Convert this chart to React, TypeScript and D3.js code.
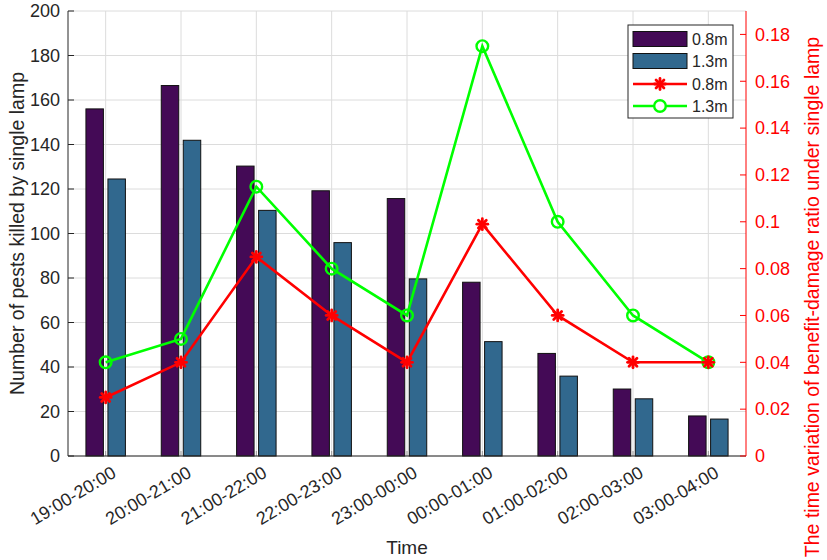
import React from "react";
import * as d3 from "d3";

const categories = [
  "19:00-20:00", "20:00-21:00", "21:00-22:00", "22:00-23:00", "23:00-00:00",
  "00:00-01:00", "01:00-02:00", "02:00-03:00", "03:00-04:00",
];
const pests08 = [156, 166.5, 130.3, 119.2, 115.7, 78.1, 46.1, 30.1, 18];
const pests13 = [124.5, 141.9, 110.4, 95.9, 79.6, 51.4, 35.9, 25.7, 16.6];
const ratio08 = [0.025, 0.04, 0.085, 0.06, 0.04, 0.099, 0.06, 0.04, 0.04];
const ratio13 = [0.04, 0.05, 0.115, 0.08, 0.06, 0.175, 0.1, 0.06, 0.04];
const leftTicks = [0, 20, 40, 60, 80, 100, 120, 140, 160, 180, 200];
const rightTicks = [0, 0.02, 0.04, 0.06, 0.08, 0.1, 0.12, 0.14, 0.16, 0.18];

const W = 827, H = 560;
const L = 68, R = 746, T = 11, B = 456;
const PURPLE = "#440a56";
const BLUE = "#31688e";
const RED = "#ff0000";
const GREEN = "#00ff00";
const INK = "#262626";
const FONT = "'Liberation Sans', Arial, Helvetica, sans-serif";

export default function App() {
  const x = d3.scalePoint<string>().domain(categories).range([L, R]).padding(0.5);
  const step = x.step();
  const yL = d3.scaleLinear().domain([0, 200]).range([B, T]);
  const yR = d3.scaleLinear().domain([0, 0.19]).range([B, T]);
  const barW = step * 0.232;
  const off = step * 0.146;

  const line = (vals: number[]) =>
    d3.line<number>().x((_, i) => x(categories[i])!).y((v) => yR(v))(vals)!;

  const star = (cx: number, cy: number, key: string, s = 5.5) => (
    <g key={key} stroke={RED} strokeWidth={2.8} strokeLinecap="round">
      <line x1={cx - s} y1={cy} x2={cx + s} y2={cy} />
      <line x1={cx} y1={cy - s} x2={cx} y2={cy + s} />
      <line x1={cx - s * 0.72} y1={cy - s * 0.72} x2={cx + s * 0.72} y2={cy + s * 0.72} />
      <line x1={cx - s * 0.72} y1={cy + s * 0.72} x2={cx + s * 0.72} y2={cy - s * 0.72} />
    </g>
  );

  const fmtR = (v: number) => String(+v.toFixed(2));

  const legX = 628, legY = 25, legW = 105, legH = 93;
  const rows = [39, 61, 84, 106];

  return (
    <svg width={W} height={H} style={{ position: "absolute", left: 0, top: 0, background: "#fff" }} fontFamily={FONT}>
      <rect x={0} y={0} width={W} height={H} fill="#fff" />
      {/* grid */}
      <g stroke="#dcdcdc" strokeWidth={1}>
        {leftTicks.map((t) => (
          <line key={"gh" + t} x1={L} x2={R} y1={yL(t)} y2={yL(t)} />
        ))}
        {categories.map((c) => (
          <line key={"gv" + c} x1={x(c)} x2={x(c)} y1={T} y2={B} />
        ))}
      </g>
      {/* bars */}
      <g stroke="#111" strokeWidth={1}>
        {categories.map((c, i) => (
          <rect key={"b1" + c} x={x(c)! - off - barW / 2} y={yL(pests08[i])} width={barW} height={B - yL(pests08[i])} fill={PURPLE} />
        ))}
        {categories.map((c, i) => (
          <rect key={"b2" + c} x={x(c)! + off - barW / 2} y={yL(pests13[i])} width={barW} height={B - yL(pests13[i])} fill={BLUE} />
        ))}
      </g>
      {/* bottom ticks */}
      <g stroke="#999" strokeWidth={1}>
        {categories.map((c) => (
          <line key={"bt" + c} x1={x(c)} x2={x(c)} y1={B} y2={B - 5} />
        ))}
      </g>
      {/* lines */}
      <path d={line(ratio13)} fill="none" stroke={GREEN} strokeWidth={2.6} />
      <path d={line(ratio08)} fill="none" stroke={RED} strokeWidth={2.6} />
      {ratio13.map((v, i) => (
        <circle key={"gc" + i} cx={x(categories[i])} cy={yR(v)} r={5.8} fill="none" stroke={GREEN} strokeWidth={2.4} />
      ))}
      {ratio08.map((v, i) => star(x(categories[i])!, yR(v), "rs" + i))}
      {/* axes */}
      <line x1={L} x2={R} y1={B} y2={B} stroke={INK} strokeWidth={1} />
      <line x1={L} x2={L} y1={T} y2={B} stroke={INK} strokeWidth={1} />
      <line x1={R} x2={R} y1={T} y2={B} stroke={RED} strokeWidth={1} />
      {leftTicks.map((t) => (
        <g key={"lt" + t}>
          <line x1={L} x2={L + 6} y1={yL(t)} y2={yL(t)} stroke={INK} />
          <text x={L - 8} y={yL(t)} dy="0.35em" textAnchor="end" fontSize={18} fill={INK}>{t}</text>
        </g>
      ))}
      {rightTicks.map((t) => (
        <g key={"rt" + t}>
          <line x1={R - 6} x2={R} y1={yR(t)} y2={yR(t)} stroke={RED} />
          <text x={R + 9} y={yR(t)} dy="0.35em" textAnchor="start" fontSize={18} fill={RED}>{fmtR(t)}</text>
        </g>
      ))}
      {categories.map((c) => (
        <text key={"xl" + c} transform={`translate(${x(c)! + 5},${B + 9}) rotate(-31)`} textAnchor="end" dy="0.72em" fontSize={18} fill={INK}>{c}</text>
      ))}
      <text x={(L + R) / 2} y={554} textAnchor="middle" fontSize={19} fill={INK}>Time</text>
      <text transform={`translate(24,${(T + B) / 2}) rotate(-90)`} textAnchor="middle" fontSize={19.5} fill={INK}>Number of pests killed by single lamp</text>
      <text transform={`translate(819,297) rotate(-90)`} textAnchor="middle" fontSize={19.5} fill={RED}>The time variation of benefit-damage ratio under single lamp</text>
      {/* legend */}
      <rect x={legX} y={legY} width={legW} height={legH} fill="#fff" stroke={INK} strokeWidth={1} />
      <rect x={633} y={rows[0] - 7.5} width={54} height={15} fill={PURPLE} stroke="#111" />
      <rect x={633} y={rows[1] - 7.5} width={54} height={15} fill={BLUE} stroke="#111" />
      <line x1={633} x2={687} y1={rows[2]} y2={rows[2]} stroke={RED} strokeWidth={2.6} />
      {star(660, rows[2], "ls")}
      <line x1={633} x2={687} y1={rows[3]} y2={rows[3]} stroke={GREEN} strokeWidth={2.6} />
      <circle cx={660} cy={rows[3]} r={5.8} fill="#fff" stroke={GREEN} strokeWidth={2.4} />
      {["0.8m", "1.3m", "0.8m", "1.3m"].map((t, i) => (
        <text key={"lg" + i} x={692} y={rows[i]} dy="0.36em" fontSize={16} fill={INK}>{t}</text>
      ))}
    </svg>
  );
}
